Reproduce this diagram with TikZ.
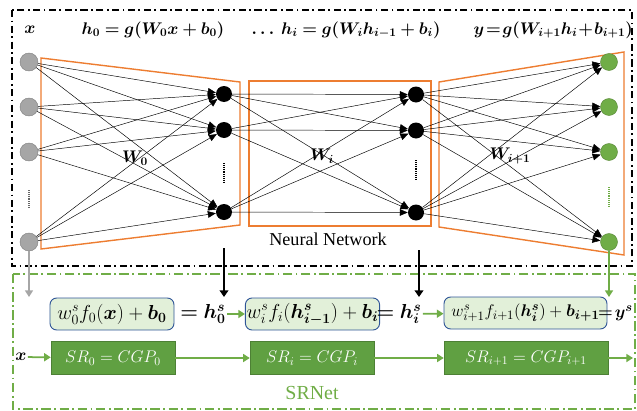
\documentclass[tikz,border=0pt]{standalone}
\usepackage{fontspec}
\setmainfont{Liberation Serif}
\usepackage{bm}
\usetikzlibrary{arrows.meta}

\definecolor{nnorange}{HTML}{ED7D31}
\definecolor{srgreen}{HTML}{70AD47}
\definecolor{srdark}{HTML}{60A042}
\definecolor{srlight}{HTML}{E2F0D9}
\definecolor{srblue}{HTML}{2F5597}

\begin{document}
\begin{tikzpicture}[x=0.3mm,y=-0.3mm,
    neuron/.style={circle,inner sep=0pt,minimum size=4.8mm},
    edge/.style={line width=0.4pt,-{Triangle[length=2.4mm,width=2mm]}},
    layerbox/.style={nnorange,line width=1.2pt},
    termfont/.style={font=\fontsize{16.5}{19}\selectfont},
    termbox/.style={termfont,draw=srblue,fill=srlight,rounded corners=2mm,line width=0.8pt,
        minimum height=9.6mm,inner sep=1pt},
    srbox/.style={draw=srdark!80!black,fill=srdark,text=white,minimum height=10mm,
        inner sep=1pt,font=\Large},
    flow/.style={srgreen,line width=1.5pt,-{Triangle[length=2mm,width=2.4mm]}}]
        \useasboundingbox (0,0) rectangle (637,411);

        % Frames: network on top, SRNet below
        \draw[line width=1pt,dash pattern=on 6pt off 3pt on 1.5pt off 3pt] (12,10) rectangle (632,266);
        \draw[srgreen,line width=1pt,dash pattern=on 8pt off 3pt on 1.5pt off 3pt] (13,274) rectangle (635,409);

        % Weight regions
        \draw[layerbox] (41,58) -- (240,82) -- (240,225) -- (41,249) -- cycle;
        \draw[layerbox] (249,81) rectangle (431,226);
        \draw[layerbox] (439,82) -- (624,52) -- (624,255) -- (439,227) -- cycle;

        % Layer formulas
        \node (lx) at (30,30) {\Large$\bm{x}$};
        \node (lh0) at (153,30) {\Large$\bm{h_0 = g(W_0 x + b_0)}$};
        \node (lhi) at (346,30) {\Large$\bm{\ldots\ h_i = g(W_i h_{i-1} + b_i)}$};
        \node[anchor=east,inner sep=0pt] (ly) at (633,30) {\Large$\bm{y \!=\! g(W_{i+1} h_i \!+\! b_{i+1})}$};

        % Neurons
        \foreach \n/\y in {1/62,2/107,3/152,4/242}
            \node[neuron,minimum size=5.4mm,fill=black!35,draw=black!50] (in\n) at (29,\y) {};
        \foreach \n/\y in {1/94,2/130,3/212} {
            \node[neuron,fill=black] (ha\n) at (224,\y) {};
            \node[neuron,fill=black] (hb\n) at (416,\y+0.5) {};
        }
        \foreach \n/\y in {1/62,2/107,3/152,4/242}
            \node[neuron,minimum size=5.1mm,fill=srgreen,draw=srgreen!80!black] (out\n) at (609,\y) {};

        % Dots for the skipped neurons
        \draw[black!60,line width=1.2pt,dash pattern=on 0.8pt off 0.8pt] (29,190) -- (29,207);
        \draw[line width=1.5pt,dash pattern=on 0.8pt off 0.8pt] (224,163) -- (224,182);
        \draw[line width=1.5pt,dash pattern=on 0.8pt off 0.8pt] (416,160) -- (416,179);
        \draw[srgreen,line width=1.5pt,dash pattern=on 0.8pt off 0.8pt] (609,187) -- (609,207);

        % Connections
        \foreach \a in {1,...,4} \foreach \b in {1,2,3} \draw[edge] (in\a) -- (ha\b);
        \foreach \a in {1,2,3} \foreach \b in {1,2,3} \draw[edge] (ha\a) -- (hb\b);
        \foreach \a in {1,2,3} \foreach \b in {1,...,4} \draw[edge] (hb\a) -- (out\b);

        % Weight names
        \node (w0) at (135,158) {\Large$\bm{W_0}$};
        \node (wi) at (322,156) {\Large$\bm{W_i}$};
        \node (wi1) at (510,156) {\Large$\bm{W_{i+1}}$};
        \node[font=\fontsize{15.5}{18}\selectfont] (nn) at (328,239) {Neural Network};

        % SRNet terms
        \node[termbox,minimum width=37.2mm] (t0) at (112,314) {$w_0^s f_0(\bm{x}) + \bm{b_0}$};
        \node[termfont,inner sep=1pt] (eh0) at (203,314) {$\bm{= h_0^s}$};
        \node[termbox,minimum width=36.9mm] (ti) at (312.5,314) {$w_i^s f_i(\bm{h^s_{i-1}}) + \bm{b_i}$};
        \node[termfont,inner sep=1pt] (ehi) at (399,314) {$\bm{= h_i^s}$};
        \node[termbox,font=\fontsize{15}{18}\selectfont,minimum width=48.9mm] (ti1) at (525.5,313) {$w_{i+1}^s f_{i+1}(\bm{h_i^s}) + \bm{b_{i+1}}$};
        \node[font=\fontsize{15}{18}\selectfont,inner sep=0pt,anchor=east] (ey) at (633,313) {$\bm{=\!y^s}$};

        \node[srbox,minimum width=37.2mm] (sr0) at (113,358) {$SR_0 = CGP_0$};
        \node[srbox,minimum width=37.2mm] (sri) at (312,358) {$SR_i = CGP_i$};
        \node[srbox,minimum width=49.2mm] (sri1) at (526,358) {$SR_{i+1} = CGP_{i+1}$};
        \node[font=\Large,inner sep=1pt] (sx) at (21,357) {$\bm{x}$};
        \coordinate (send) at (633,358);
        \node[srgreen,font=\fontsize{17}{20}\selectfont] (srn) at (312,393) {SRNet};

        % Links down to SRNet
        \coordinate (d0) at (224,248);
        \coordinate (d0e) at (224,297);
        \coordinate (di) at (419,250);
        \coordinate (die) at (419,297);
        \coordinate (dx) at (29,297);
        \coordinate (dy) at (609,297);
        \draw[black!35,line width=1.5pt,-{Triangle[length=2mm,width=2.4mm]}] (in4) -- (dx);
        \draw[line width=1.5pt,-{Triangle[length=2mm,width=2.6mm]}] (d0) -- (d0e);
        \draw[line width=1.5pt,-{Triangle[length=2mm,width=2.6mm]}] (di) -- (die);
        \draw[flow] (out4) -- (dy);

        % Flow between the terms
        \draw[flow] (eh0) -- (ti);
        \draw[flow] (ehi) -- (ti1);
        \draw[flow] (sx) -- (sr0);
        \draw[flow] (sr0) -- (sri);
        \draw[flow] (sri) -- (sri1);
        \draw[flow] (sri1) -- (send);
    \end{tikzpicture}
\end{document}
